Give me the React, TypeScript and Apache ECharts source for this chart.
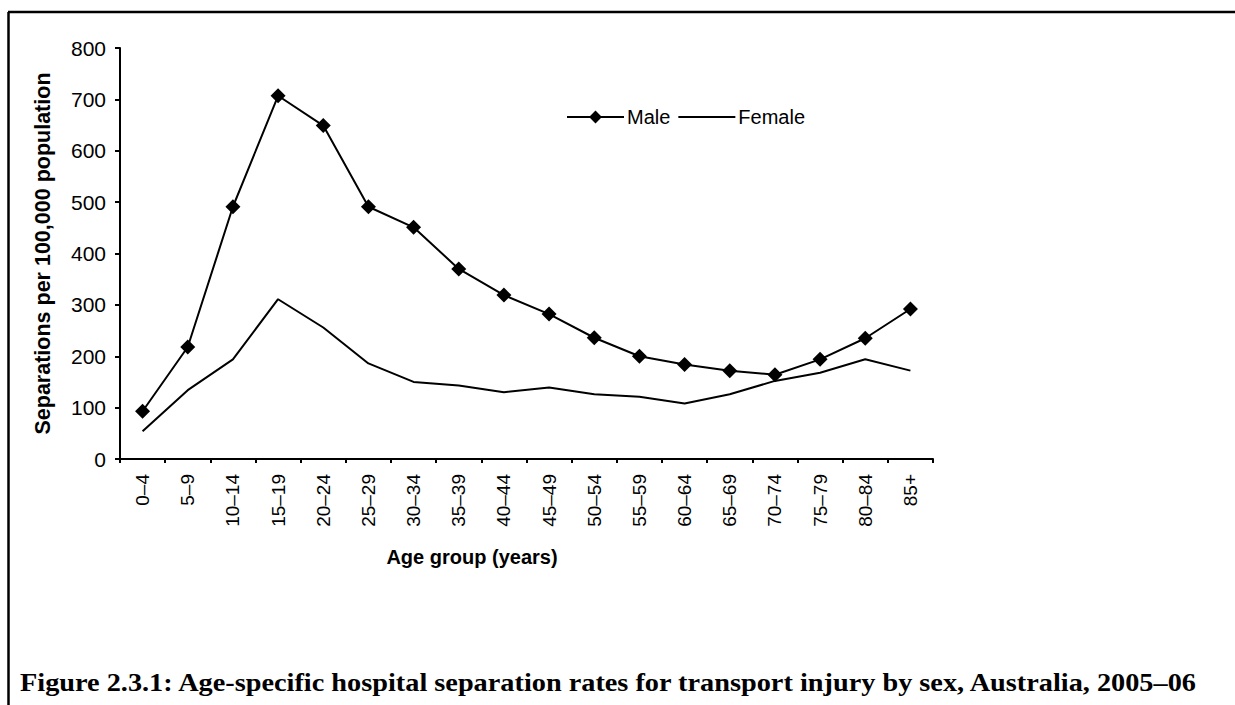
import React, { useEffect, useRef } from "react";
import * as echarts from "echarts";

const categories = ["0–4", "5–9", "10–14", "15–19", "20–24", "25–29", "30–34", "35–39", "40–44", "45–49", "50–54", "55–59", "60–64", "65–69", "70–74", "75–79", "80–84", "85+"];
const maleRates = [93, 218, 491, 707, 649, 491, 451, 370, 319, 282, 236, 200, 184, 172, 164, 194, 235, 292];
const femaleRates = [54, 134, 194, 311, 256, 186, 150, 143, 130, 139, 126, 121, 108, 126, 152, 168, 194, 172];
const seriesNames = ["Male", "Female"];
const yAxisTitle = "Separations per 100,000 population";
const xAxisTitle = "Age group (years)";
const figureTitle = "Figure 2.3.1: Age-specific hospital separation rates for transport injury by sex, Australia, 2005–06";

export default function App() {
  const ref = useRef<HTMLDivElement>(null);
  useEffect(() => {
    document.body.style.margin = "0";
    const chart = echarts.init(ref.current!, null, { renderer: "svg" });
    const sans = "Liberation Sans, Arial, sans-serif";
    chart.setOption({
      animation: false,
      backgroundColor: "#ffffff",
      grid: { left: 120, right: 302, top: 48, bottom: 246, containLabel: false },
      legend: {
        left: 561,
        top: 102,
        itemWidth: 57,
        itemHeight: 16,
        itemGap: 8,
        symbolKeepAspect: true,
        textStyle: { fontFamily: sans, fontSize: 20, color: "#000", padding: [0, 0, 0, -2] },
        data: [
          { name: seriesNames[0] },
          { name: seriesNames[1], icon: "path://M0,0 L57,0 L57,2 L0,2 Z" },
        ],
      },
      xAxis: {
        type: "category",
        data: categories,
        boundaryGap: true,
        axisLine: { lineStyle: { color: "#000", width: 2 } },
        axisTick: { show: true, length: 4, inside: false, lineStyle: { color: "#000", width: 2 } },
        axisLabel: { rotate: 90, fontFamily: sans, fontSize: 19, color: "#000", margin: 15, interval: 0 },
        splitLine: { show: false },
      },
      yAxis: {
        type: "value",
        min: 0,
        max: 800,
        interval: 100,
        axisLine: { show: true, lineStyle: { color: "#000", width: 2 } },
        axisTick: { show: true, length: 5, inside: false, lineStyle: { color: "#000", width: 2 } },
        axisLabel: { fontFamily: sans, fontSize: 21, color: "#000", margin: 14 },
        splitLine: { show: false },
        name: yAxisTitle,
        nameLocation: "middle",
        nameGap: 66,
        nameTextStyle: { fontFamily: sans, fontSize: 21.5, fontWeight: "bold", color: "#000" },
      },
      series: [
        {
          name: seriesNames[0],
          type: "line",
          data: maleRates,
          symbol: "diamond",
          symbolSize: 15,
          itemStyle: { color: "#000" },
          lineStyle: { color: "#000", width: 2 },
        },
        {
          name: seriesNames[1],
          type: "line",
          data: femaleRates,
          symbol: "none",
          itemStyle: { color: "#000" },
          lineStyle: { color: "#000", width: 2 },
        },
      ],
      graphic: [
        { type: "line", shape: { x1: 8, y1: 12, x2: 1235, y2: 12 }, style: { stroke: "#000", lineWidth: 2.5 } },
        { type: "line", shape: { x1: 8.5, y1: 12, x2: 8.5, y2: 705 }, style: { stroke: "#000", lineWidth: 2.5 } },
        {
          type: "text",
          x: 472,
          y: 557,
          style: { text: xAxisTitle, fontFamily: sans, fontSize: 20, fontWeight: "bold", fill: "#000", align: "center", verticalAlign: "middle" },
        },
        {
          type: "text",
          x: 20,
          y: 682,
          scaleX: 1.11,
          style: { text: figureTitle, fontFamily: "Liberation Serif, serif", fontSize: 25.5, fontWeight: "bold", fill: "#000", align: "left", verticalAlign: "middle" },
        },
      ],
    });
    return () => chart.dispose();
  }, []);
  return <div ref={ref} style={{ width: 1235, height: 705 }} />;
}
